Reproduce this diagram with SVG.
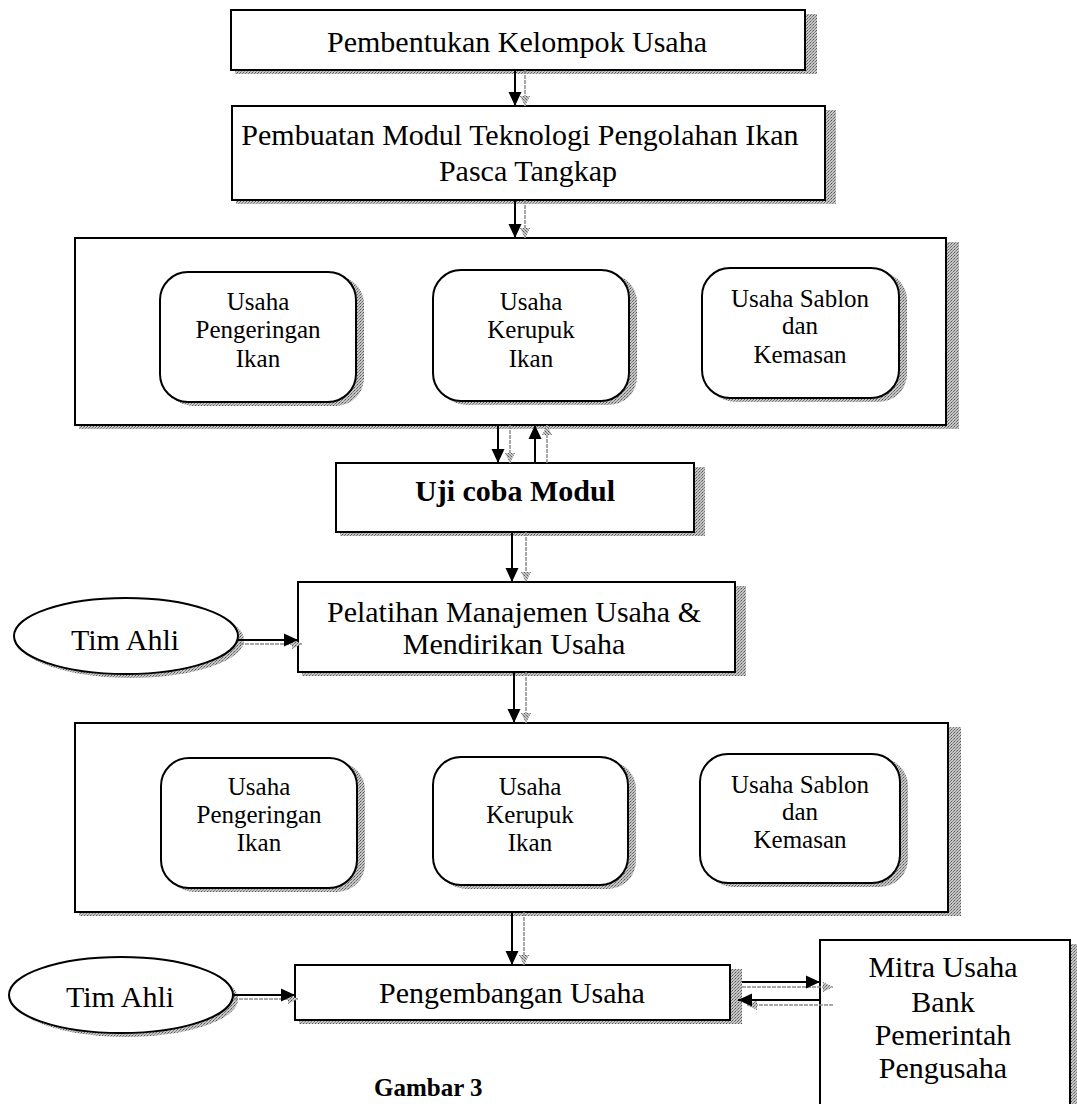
<svg xmlns="http://www.w3.org/2000/svg" width="1077" height="1104" viewBox="0 0 1077 1104">
<style>
.bx{fill:#fff;stroke:#000;stroke-width:2}
.sh{fill:url(#st);stroke:none}
.t{font-family:"Liberation Serif","Times New Roman",serif;font-size:30px;fill:#000;text-anchor:middle}
.s{font-family:"Liberation Serif","Times New Roman",serif;font-size:25px;fill:#000;text-anchor:middle}
.b{font-weight:bold}
.ln{stroke:#000;stroke-width:2;fill:none;marker-end:url(#ah)}
.gl{stroke:#8c8c8c;stroke-width:1.5;stroke-dasharray:4 1;fill:none;marker-end:url(#ag)}
</style>
<defs>
<pattern id="st" width="3" height="3" patternUnits="userSpaceOnUse">
<rect width="3" height="3" fill="#c4c4c4"/>
<rect width="1" height="1" fill="#5a5a5a"/>
<rect x="2" y="1" width="1" height="1" fill="#7a7a7a"/>
<rect x="1" y="2" width="1" height="1" fill="#909090"/>
</pattern>
<marker id="ah" viewBox="0 0 14 14" refX="14" refY="7" markerWidth="14" markerHeight="14" markerUnits="userSpaceOnUse" orient="auto">
<path d="M0,0.5 L14,7 L0,13.5 z" fill="#000"/>
</marker>
<marker id="ag" viewBox="0 0 10 10" refX="10" refY="5" markerWidth="10" markerHeight="10" markerUnits="userSpaceOnUse" orient="auto">
<path d="M0,0 L10,5 L0,10 z" fill="url(#st)"/>
</marker>
</defs>
<rect width="1077" height="1104" fill="#fff"/>

<g id="n-pembentukan">
<rect class="sh" x="235" y="14" width="582" height="60"/>
<rect class="bx" x="231" y="10" width="574" height="60"/>
<text class="t" x="517" y="52">Pembentukan Kelompok Usaha</text>
</g>

<g id="n-pembuatan">
<rect class="sh" x="236" y="110" width="600" height="94"/>
<rect class="bx" x="232" y="106" width="593" height="94"/>
<text class="t" x="520" y="145">Pembuatan Modul Teknologi Pengolahan Ikan</text>
<text class="t" x="528" y="181">Pasca Tangkap</text>
</g>

<g id="n-usaha1">
<rect class="sh" x="79" y="242" width="880" height="187"/>
<rect class="bx" x="75" y="238" width="871" height="187"/>
<g id="n-usaha1-pengeringan">
<rect class="sh" x="165" y="276" width="199" height="130" rx="28"/>
<rect class="bx" x="160" y="272" width="196" height="130" rx="28"/>
<text class="s" x="258" y="310">Usaha</text>
<text class="s" x="258" y="338">Pengeringan</text>
<text class="s" x="258" y="367">Ikan</text>
</g>
<g id="n-usaha1-kerupuk">
<rect class="sh" x="438" y="274" width="199" height="131" rx="28"/>
<rect class="bx" x="433" y="270" width="196" height="131" rx="28"/>
<text class="s" x="531" y="310">Usaha</text>
<text class="s" x="531" y="338">Kerupuk</text>
<text class="s" x="531" y="367">Ikan</text>
</g>
<g id="n-usaha1-sablon">
<rect class="sh" x="707" y="272" width="200" height="130" rx="28"/>
<rect class="bx" x="702" y="268" width="197" height="130" rx="28"/>
<text class="s" x="800" y="307">Usaha Sablon</text>
<text class="s" x="800" y="334">dan</text>
<text class="s" x="800" y="363">Kemasan</text>
</g>
</g>

<g id="n-ujicoba">
<rect class="sh" x="340" y="467" width="365" height="69"/>
<rect class="bx" x="336" y="463" width="358" height="69"/>
<text class="t b" x="515" y="501">Uji coba Modul</text>
</g>

<g id="n-pelatihan">
<rect class="sh" x="302" y="586" width="444" height="90"/>
<rect class="bx" x="298" y="582" width="437" height="90"/>
<text class="t" x="514" y="622">Pelatihan Manajemen Usaha &amp;</text>
<text class="t" x="514" y="654">Mendirikan Usaha</text>
</g>

<g id="n-timahli1">
<ellipse class="sh" cx="131" cy="640" rx="113" ry="38"/>
<ellipse class="bx" cx="126" cy="636" rx="112" ry="38"/>
<text class="t" x="125" y="650">Tim Ahli</text>
</g>

<g id="n-usaha2">
<rect class="sh" x="79" y="727" width="882" height="189"/>
<rect class="bx" x="75" y="723" width="873" height="189"/>
<g id="n-usaha2-pengeringan">
<rect class="sh" x="166" y="762" width="199" height="130" rx="28"/>
<rect class="bx" x="161" y="758" width="196" height="130" rx="28"/>
<text class="s" x="259" y="795">Usaha</text>
<text class="s" x="259" y="823">Pengeringan</text>
<text class="s" x="259" y="851">Ikan</text>
</g>
<g id="n-usaha2-kerupuk">
<rect class="sh" x="438" y="761" width="198" height="128" rx="28"/>
<rect class="bx" x="433" y="757" width="195" height="128" rx="28"/>
<text class="s" x="530" y="795">Usaha</text>
<text class="s" x="530" y="823">Kerupuk</text>
<text class="s" x="530" y="851">Ikan</text>
</g>
<g id="n-usaha2-sablon">
<rect class="sh" x="705" y="758" width="203" height="129" rx="28"/>
<rect class="bx" x="700" y="754" width="200" height="129" rx="28"/>
<text class="s" x="800" y="793">Usaha Sablon</text>
<text class="s" x="800" y="820">dan</text>
<text class="s" x="800" y="848">Kemasan</text>
</g>
</g>

<g id="n-pengembangan">
<rect class="sh" x="299" y="969" width="443" height="55"/>
<rect class="bx" x="295" y="965" width="435" height="55"/>
<text class="t" x="512" y="1003">Pengembangan Usaha</text>
</g>

<g id="n-timahli2">
<ellipse class="sh" cx="126" cy="999" rx="112" ry="38"/>
<ellipse class="bx" cx="121" cy="995" rx="112" ry="38"/>
<text class="t" x="120" y="1007">Tim Ahli</text>
</g>

<g id="n-mitra">
<rect class="sh" x="824" y="944" width="253" height="170"/>
<rect class="bx" x="820" y="940" width="250" height="175"/>
<text class="t" x="943" y="977">Mitra Usaha</text>
<text class="t" x="943" y="1012">Bank</text>
<text class="t" x="943" y="1045">Pemerintah</text>
<text class="t" x="943" y="1078">Pengusaha</text>
</g>

<g id="connectors">
<line class="gl" x1="525" y1="70" x2="525" y2="106"/>
<line class="ln" x1="515" y1="70" x2="515" y2="106"/>
<line class="gl" x1="525" y1="200" x2="525" y2="238"/>
<line class="ln" x1="515" y1="200" x2="515" y2="238"/>
<line class="gl" x1="510" y1="425" x2="510" y2="463"/>
<line class="ln" x1="498" y1="425" x2="498" y2="463"/>
<line class="gl" x1="547" y1="463" x2="547" y2="425"/>
<line class="ln" x1="535" y1="463" x2="535" y2="425"/>
<line class="gl" x1="526" y1="532" x2="526" y2="582"/>
<line class="ln" x1="512" y1="532" x2="512" y2="582"/>
<line class="gl" x1="240" y1="644" x2="302" y2="644"/>
<line class="ln" x1="238" y1="640" x2="298" y2="640"/>
<line class="gl" x1="526" y1="672" x2="526" y2="723"/>
<line class="ln" x1="514" y1="672" x2="514" y2="723"/>
<line class="gl" x1="524" y1="912" x2="524" y2="965"/>
<line class="ln" x1="512" y1="912" x2="512" y2="965"/>
<line class="gl" x1="234" y1="999" x2="298" y2="999"/>
<line class="ln" x1="234" y1="995" x2="295" y2="995"/>
<line class="gl" x1="742" y1="987" x2="833" y2="987"/>
<line class="ln" x1="742" y1="982" x2="820" y2="982"/>
<line class="gl" x1="833" y1="1005" x2="747" y2="1005"/>
<line class="ln" x1="820" y1="1000" x2="738" y2="1000"/>
</g>

<text x="374" y="1096" font-family="Liberation Serif, serif" font-weight="bold" font-size="25">Gambar 3</text>
</svg>
